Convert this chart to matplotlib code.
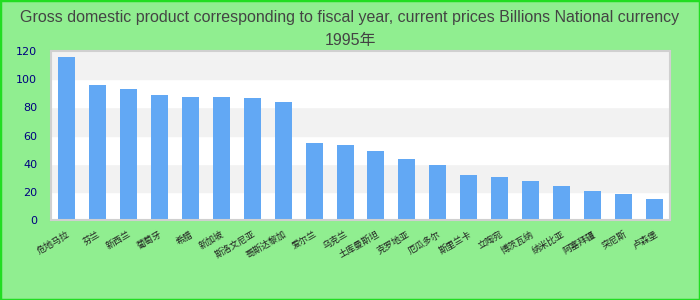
import matplotlib
matplotlib.use('Agg')
import matplotlib.pyplot as plt
from matplotlib.patches import Rectangle

plt.rcParams['font.family'] = ['DejaVu Sans', 'Noto Sans CJK SC']

# region labels (shown only as missing-glyph boxes in the reference)
labels = ['危地马拉', '芬兰', '新西兰', '葡萄牙', '希腊', '新加坡', '斯洛文尼亚',
          '哥斯达黎加', '爱尔兰', '乌克兰', '土库曼斯坦', '克罗地亚', '厄瓜多尔',
          '斯里兰卡', '立陶宛', '博茨瓦纳', '纳米比亚', '阿塞拜疆', '突尼斯', '卢森堡']
values = [115.8, 95.9, 93.0, 88.8, 87.4, 87.4, 86.6, 83.8, 54.7, 53.3,
          49.0, 43.3, 39.1, 32.0, 30.5, 27.7, 24.1, 20.6, 18.5, 14.9]
yticks = [0, 20, 40, 60, 80, 100, 120]
title = 'Gross domestic product corresponding to fiscal year, current prices Billions National currency\n1995年'

fig = plt.figure(figsize=(7, 3), dpi=100, facecolor='#90ee90')
fig.patches.append(Rectangle((0, 0), 1, 1, transform=fig.transFigure, fill=False,
                             edgecolor='#22dd22', linewidth=2.5))
ax = fig.add_axes([51/700, 80/300, 619/700, 169/300])

# alternating horizontal bands
for i in range(len(yticks) - 1):
    ax.axhspan(yticks[i], yticks[i+1], color='#ffffff' if i % 2 == 0 else '#f2f2f2', zorder=0)

x = list(range(len(values)))
ax.bar(x, values, width=0.55, color='#62a8f4', zorder=2)
ax.set_xlim(-0.5, len(values) - 0.5)
ax.set_ylim(0, 120)
ax.set_yticks(yticks)
ax.set_xticks(x)
ax.set_xticklabels(labels, rotation=30, ha='right', rotation_mode='anchor',
                   fontsize=6.5, color='#222222',
                   family=['Noto Sans CJK SC', 'DejaVu Sans'])
ax.tick_params(axis='y', length=0, labelsize=8, labelcolor='#000080', pad=10)
ax.tick_params(axis='x', length=0, pad=7)
for s in ax.spines.values():
    s.set_color('#d0d0d0')
    s.set_linewidth(1.5)

fig.text(0.5, 0.968, title, ha='center', va='top', fontsize=11.5, color='#444444',
         linespacing=1.7,
         family=['Liberation Sans Narrow', 'Liberation Sans', 'Noto Sans CJK SC'])

fig.savefig('out.png', dpi=100, facecolor=fig.get_facecolor())
